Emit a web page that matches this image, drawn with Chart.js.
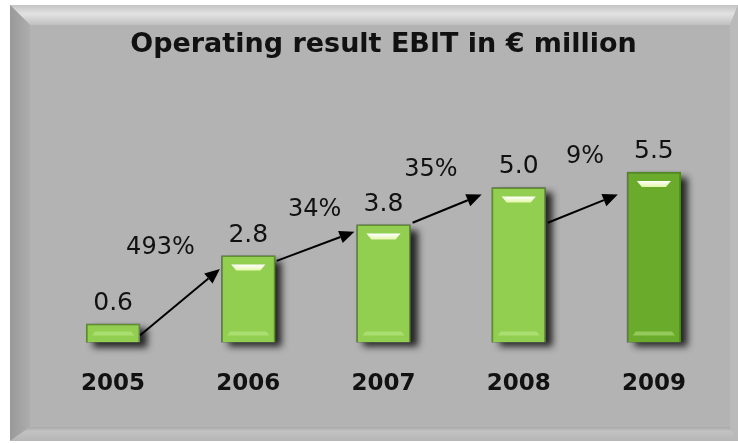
<!DOCTYPE html>
<html>
<head>
<meta charset="utf-8">
<script src="https://cdn.jsdelivr.net/npm/chart.js@4.4.1/dist/chart.umd.min.js"></script>
<style>
    html, body { margin: 0; padding: 0; background: #fff; }
    canvas { display: block; }
</style>
</head>
<body>
<canvas id="ebitChart" width="738" height="443"></canvas>
<script>
const years = ["2005", "2006", "2007", "2008", "2009"];
const ebit = [0.6, 2.8, 3.8, 5.0, 5.5];
const barColors = ["#92cf50", "#92cf50", "#92cf50", "#92cf50", "#6aab2b"];
const barBorders = ["#5f8f2f", "#5f8f2f", "#5f8f2f", "#5f8f2f", "#4f8a1d"];

// growth labels, anchored in (category index, value) space
const growthLabels = ["493%", "34%", "35%", "9%"];
const growthX = [0.35, 1.49, 2.35, 3.49];
const growthY = [2.86, 4.07, 5.36, 5.78];

// arrows between bars, (category index, value) space
const arrowFromX = [0.2, 1.21, 2.215, 3.215];
const arrowFromY = [0.23, 2.63, 3.86, 3.86];
const arrowToX = [0.79, 1.785, 2.726, 3.733];
const arrowToY = [2.37, 3.57, 4.77, 4.77];

const FONT = "'DejaVu Sans', Verdana, sans-serif";

function fillPoly(ctx, pts, style) {
    ctx.beginPath();
    ctx.moveTo(pts[0][0], pts[0][1]);
    for (let i = 1; i < pts.length; i++) {
        ctx.lineTo(pts[i][0], pts[i][1]);
    }
    ctx.closePath();
    ctx.fillStyle = style;
    ctx.fill();
}

const framePlugin = {
    id: "frame",
    beforeDraw(chart) {
        const ctx = chart.ctx;
        const x0 = 10, y0 = 5, x1 = chart.width, y1 = chart.height - 2;
        const bt = 20, bl = 20, bb = 14, br = 8;
        ctx.save();
        ctx.fillStyle = "#fff";
        ctx.fillRect(0, 0, chart.width, chart.height);
        ctx.fillStyle = "#b3b3b3";
        ctx.fillRect(x0, y0, x1 - x0, y1 - y0);

        let g = ctx.createLinearGradient(0, y0, 0, y0 + bt);
        g.addColorStop(0, "#c4c4c4");
        g.addColorStop(0.45, "#e2e2e2");
        g.addColorStop(1, "#c0c0c0");
        fillPoly(ctx, [[x0, y0], [x1, y0], [x1 - br, y0 + bt], [x0 + bl, y0 + bt]], g);

        g = ctx.createLinearGradient(x0, 0, x0 + bl, 0);
        g.addColorStop(0, "#999");
        g.addColorStop(1, "#adadad");
        fillPoly(ctx, [[x0, y0], [x0 + bl, y0 + bt], [x0 + bl, y1 - bb], [x0, y1]], g);

        g = ctx.createLinearGradient(0, y1 - bb, 0, y1);
        g.addColorStop(0, "#a9a9a9");
        g.addColorStop(0.3, "#c2c2c2");
        g.addColorStop(1, "#b6b6b6");
        fillPoly(ctx, [[x0, y1], [x0 + bl, y1 - bb], [x1 - br, y1 - bb], [x1, y1]], g);

        fillPoly(ctx, [[x1, y0], [x1, y1], [x1 - br, y1 - bb], [x1 - br, y0 + bt]], "#bababa");
        ctx.restore();
    },
};

function drawArrow(ctx, ax, ay, bx, by) {
    const ang = Math.atan2(by - ay, bx - ax);
    const len = 15, half = 6.5;
    const lx = bx - Math.cos(ang) * len;
    const ly = by - Math.sin(ang) * len;
    ctx.beginPath();
    ctx.moveTo(ax, ay);
    ctx.lineTo(lx, ly);
    ctx.strokeStyle = "#000";
    ctx.lineWidth = 2;
    ctx.stroke();
    ctx.beginPath();
    ctx.moveTo(bx, by);
    ctx.lineTo(lx - Math.sin(ang) * half, ly + Math.cos(ang) * half);
    ctx.lineTo(lx + Math.sin(ang) * half, ly - Math.cos(ang) * half);
    ctx.closePath();
    ctx.fillStyle = "#000";
    ctx.fill();
}

const barFxPlugin = {
    id: "barFx",
    beforeDatasetsDraw(chart) {
        const ctx = chart.ctx;
        chart.getDatasetMeta(0).data.forEach((bar) => {
            const { x, y, base, width } = bar.getProps(["x", "y", "base", "width"], true);
            ctx.save();
            ctx.shadowColor = "rgba(20, 20, 20, 0.9)";
            ctx.shadowBlur = 7;
            ctx.shadowOffsetX = 7;
            ctx.shadowOffsetY = 5;
            ctx.fillStyle = "#555";
            ctx.fillRect(x - width / 2, y, width, base - y);
            ctx.restore();
        });
    },
    afterDatasetsDraw(chart) {
        const ctx = chart.ctx;
        const xs = chart.scales.x;
        const ys = chart.scales.y;
        ctx.save();
        chart.getDatasetMeta(0).data.forEach((bar, i) => {
            const { x, y, base, width } = bar.getProps(["x", "y", "base", "width"], true);
            const left = x - width / 2;
            const right = x + width / 2;

            // lower bevel line
            fillPoly(ctx, [[left + 9, base - 11], [right - 9, base - 11], [right - 6, base - 7], [left + 6, base - 7]], "rgba(200, 240, 150, 0.45)");

            // top highlight
            if (base - y > 40) {
                const g = ctx.createLinearGradient(0, y + 9, 0, y + 15);
                g.addColorStop(0, "#ffffff");
                g.addColorStop(1, "#e4f7a8");
                fillPoly(ctx, [[left + 10, y + 9], [right - 10, y + 9], [right - 15, y + 15], [left + 15, y + 15]], g);
            }

            // value label
            ctx.font = `25px ${FONT}`;
            ctx.fillStyle = "#111";
            ctx.textAlign = "center";
            ctx.textBaseline = "alphabetic";
            ctx.fillText(ebit[i].toFixed(1), x, y - 14);
        });

        growthLabels.forEach((label, i) => {
            ctx.font = `24px ${FONT}`;
            ctx.fillStyle = "#111";
            ctx.textAlign = "center";
            ctx.textBaseline = "alphabetic";
            ctx.fillText(label, xs.getPixelForValue(growthX[i]), ys.getPixelForValue(growthY[i]));
        });

        arrowFromX.forEach((fx, i) => {
            drawArrow(
                ctx,
                xs.getPixelForValue(fx),
                ys.getPixelForValue(arrowFromY[i]),
                xs.getPixelForValue(arrowToX[i]),
                ys.getPixelForValue(arrowToY[i])
            );
        });
        ctx.restore();
    },
};

new Chart(document.getElementById("ebitChart"), {
    type: "bar",
    data: {
        labels: years,
        datasets: [
            {
                data: ebit,
                backgroundColor: barColors,
                borderColor: barBorders,
                borderWidth: 1.5,
                barPercentage: 0.4,
                categoryPercentage: 1,
            },
        ],
    },
    options: {
        responsive: false,
        animation: false,
        devicePixelRatio: 1,
        layout: {
            padding: { left: 45.5, right: 16.5, top: 10, bottom: 17 },
        },
        scales: {
            x: {
                grid: { display: false, drawTicks: false },
                border: { display: false },
                ticks: {
                    color: "#111",
                    padding: 28,
                    font: { family: FONT, size: 23, weight: "bold" },
                },
            },
            y: {
                display: false,
                min: 0,
                max: 8,
            },
        },
        plugins: {
            legend: { display: false },
            tooltip: { enabled: false },
            title: {
                display: true,
                text: "Operating result EBIT in € million",
                color: "#111",
                font: { family: FONT, size: 27, weight: "bold" },
                padding: { top: 19, bottom: 33 },
            },
        },
    },
    plugins: [framePlugin, barFxPlugin],
});
</script>
</body>
</html>
